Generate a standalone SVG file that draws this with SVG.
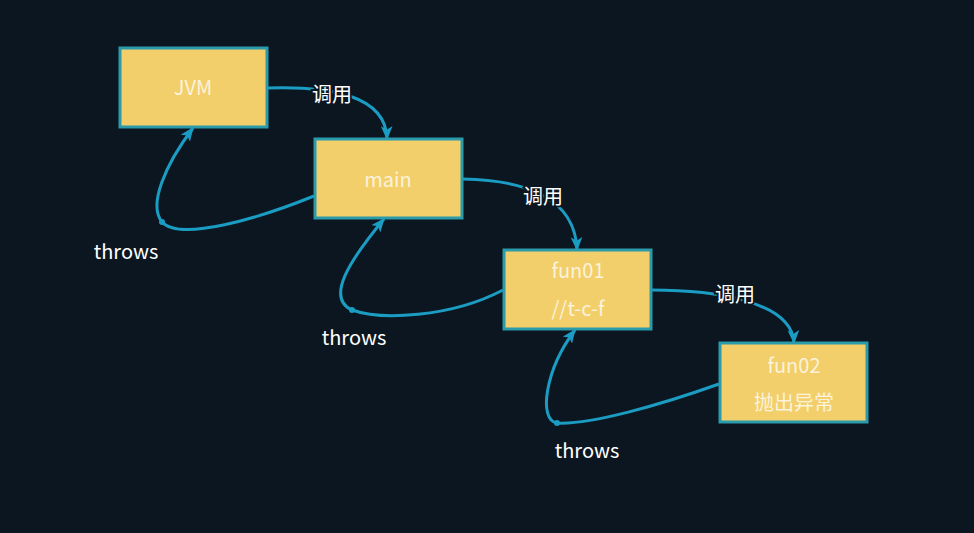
<svg xmlns="http://www.w3.org/2000/svg" width="974" height="533" viewBox="0 0 974 533">
<defs>
<marker id="arr" viewBox="0 0 12 10" refX="11" refY="5" markerWidth="14" markerHeight="12" markerUnits="userSpaceOnUse" orient="auto">
<path d="M0,0 L12,5 L0,10 L3,5 Z" fill="#1b9cc2"/>
</marker>
<style>
.box{fill:#f2cf6a;stroke:#2b9aab;stroke-width:3}
.nt{font-family:"Noto Sans CJK SC","Noto Sans",sans-serif;font-size:20px;fill:#fbf3dc;text-anchor:middle}
.lbl{font-family:"Noto Sans CJK SC","Noto Sans",sans-serif;font-size:20px;fill:#ffffff;text-anchor:middle;stroke:#0b1620;stroke-width:4;paint-order:stroke}
.ln{fill:none;stroke:#1b9cc2;stroke-width:3;marker-end:url(#arr)}
.dot{fill:#1b9cc2}
</style>
</defs>
<rect width="974" height="533" fill="#0b1620"/>
<g id="connectors">
<path class="ln" d="M267,88 C330,86 386,95 387,139"/>
<path class="ln" d="M463,179 C520,180 575,195 577,250"/>
<path class="ln" d="M652,290 C710,290 792,300 794,343"/>
<path class="ln" d="M314,196 C260,218 180,242 162,222 C148,205 165,165 193,128"/>
<path class="ln" d="M503,290 C450,318 380,320 352,310 C325,298 350,260 384,219"/>
<path class="ln" d="M719,384 C660,405 590,425 557,423 C538,420 545,370 575,330"/>
<circle class="dot" cx="162" cy="222" r="3"/>
<circle class="dot" cx="352" cy="310" r="3"/>
<circle class="dot" cx="557" cy="423" r="3"/>
<text class="lbl" x="332" y="102">调用</text>
<text class="lbl" x="543" y="204">调用</text>
<text class="lbl" x="735" y="302">调用</text>
<text class="lbl" x="126" y="259">throws</text>
<text class="lbl" x="354" y="345">throws</text>
<text class="lbl" x="587" y="458">throws</text>
</g>
<g id="jvm"><rect class="box" x="120" y="48" width="147" height="79"/><text class="nt" x="193" y="95">JVM</text></g>
<g id="main"><rect class="box" x="315" y="139" width="147" height="79"/><text class="nt" x="388" y="187">main</text></g>
<g id="fun01"><rect class="box" x="504" y="250" width="147" height="79"/><text class="nt" x="578" y="278">fun01</text><text class="nt" x="578" y="316">//t-c-f</text></g>
<g id="fun02"><rect class="box" x="720" y="343" width="147" height="79"/><text class="nt" x="794" y="373">fun02</text><text class="nt" x="794" y="410">抛出异常</text></g>
</svg>
